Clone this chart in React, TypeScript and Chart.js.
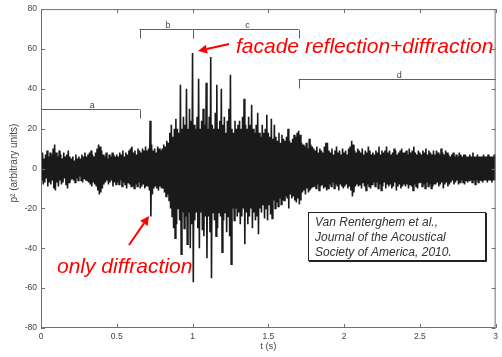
import React, { useEffect, useRef } from 'react';
import { Chart, registerables } from 'chart.js';

Chart.register(...registerables);

// ---- data ----
const sampleStep = 0.01; // seconds between envelope samples
const upperEnvelope = [
  6, 8, 5, 7, 9, 6, 8, 7, 10, 12,
  8, 6, 9, 7, 5, 8, 6, 7, 9, 6,
  5, 6, 4, 7, 5, 6, 5, 7, 6, 8,
  6, 7, 8, 9, 7, 6, 8, 10, 12, 11,
  9, 7, 6, 8, 5, 7, 6, 8, 7, 6,
  7, 6, 8, 7, 9, 6, 8, 7, 9, 10,
  11, 8, 9, 7, 10, 9, 8, 10, 9, 11,
  9, 10, 24, 12, 9, 10, 8, 11, 10, 9,
  10, 12, 11, 14, 13, 18, 22, 16, 20, 25,
  20, 18, 42, 20, 26, 22, 40, 20, 30, 24,
  58, 22, 20, 26, 45, 20, 24, 30, 22, 43,
  20, 26, 56, 22, 20, 28, 42, 20, 24, 40,
  22, 26, 18, 24, 30, 47, 20, 18, 24, 20,
  22, 24, 20, 26, 35, 22, 20, 26, 22, 32,
  20, 18, 22, 28, 18, 16, 22, 18, 20, 27,
  18, 16, 25, 15, 22, 16, 14, 18, 13, 17,
  15, 14, 16, 20, 14, 13, 15, 17, 16, 18,
  19, 17, 13, 12, 11, 13, 10, 15, 12, 11,
  10, 9, 11, 8, 10, 9, 8, 11, 13, 13,
  9, 8, 10, 7, 9, 11, 8, 9, 7, 10,
  8, 9, 7, 10, 11, 14, 12, 9, 8, 10,
  9, 8, 10, 7, 9, 8, 11, 9, 7, 8,
  7, 9, 8, 11, 7, 9, 8, 9, 11, 8,
  9, 7, 8, 10, 9, 7, 8, 9, 10, 8,
  8, 9, 7, 10, 8, 9, 11, 8, 7, 9,
  8, 7, 9, 8, 10, 7, 9, 8, 7, 9,
  7, 9, 8, 7, 10, 8, 7, 9, 8, 7,
  6, 7, 8, 6, 7, 6, 8, 7, 6, 7,
  7, 6, 6, 7, 6, 8, 6, 6, 7, 6,
  6, 6, 7, 6, 6, 7, 6, 6, 6, 7,
];
const lowerEnvelope = [
  -6, -8, -7, -5, -9, -7, -8, -6, -10, -11,
  -7, -9, -6, -8, -7, -5, -8, -10, -7, -6,
  -5, -6, -7, -5, -6, -4, -6, -7, -5, -6,
  -6, -7, -8, -9, -7, -8, -9, -11, -13, -12,
  -10, -8, -7, -6, -8, -7, -6, -9, -7, -8,
  -7, -8, -6, -9, -7, -8, -10, -7, -8, -9,
  -9, -10, -8, -9, -7, -10, -9, -8, -10, -9,
  -9, -11, -24, -13, -10, -9, -10, -11, -9, -10,
  -10, -12, -14, -13, -16, -20, -24, -30, -35, -28,
  -20, -26, -43, -22, -30, -24, -38, -22, -40, -28,
  -57, -26, -22, -30, -40, -22, -31, -34, -24, -45,
  -24, -32, -55, -22, -26, -34, -30, -22, -24, -42,
  -26, -22, -32, -24, -34, -48, -20, -26, -20, -24,
  -22, -28, -24, -20, -38, -22, -28, -24, -20, -30,
  -22, -26, -24, -33, -20, -22, -18, -25, -20, -26,
  -18, -23, -25, -16, -20, -17, -19, -15, -18, -16,
  -16, -14, -15, -20, -13, -15, -14, -16, -17, -15,
  -18, -16, -12, -11, -13, -10, -12, -11, -10, -9,
  -9, -10, -8, -11, -9, -8, -10, -9, -11, -10,
  -8, -9, -7, -10, -8, -9, -11, -8, -9, -10,
  -9, -8, -10, -9, -11, -14, -12, -9, -8, -9,
  -8, -10, -7, -9, -11, -8, -9, -10, -8, -7,
  -9, -7, -10, -8, -11, -9, -7, -10, -8, -9,
  -8, -10, -9, -7, -11, -9, -8, -10, -9, -8,
  -9, -8, -10, -8, -9, -11, -8, -9, -10, -7,
  -7, -9, -8, -10, -7, -9, -8, -10, -9, -8,
  -8, -7, -9, -8, -7, -10, -8, -7, -9, -8,
  -7, -6, -8, -7, -6, -8, -7, -6, -7, -8,
  -6, -7, -6, -6, -7, -6, -8, -6, -7, -6,
  -6, -7, -6, -6, -7, -6, -6, -7, -6, -6,
];
const xTicks = [0, 0.5, 1, 1.5, 2, 2.5, 3];
const yTicks = [-80, -60, -40, -20, 0, 20, 40, 60, 80];
const segmentLabels = ['a', 'b', 'c', 'd'];
const segmentStart = [0, 0.65, 1.0, 1.7];
const segmentEnd = [0.65, 1.0, 1.7, 3.0];
const segmentLevel = [30, 70, 70, 45];
const citationLines = [
  'Van Renterghem et al.,',
  'Journal of the Acoustical',
  'Society of America, 2010.',
];

const SANS = '"Liberation Sans", Arial, Helvetica, sans-serif';

function buildWave() {
  const pts: { x: number; y: number }[] = [];
  for (let i = 0; i < upperEnvelope.length; i++) {
    const t = i * sampleStep;
    pts.push({ x: t, y: upperEnvelope[i] });
    pts.push({ x: t + sampleStep / 2, y: lowerEnvelope[i] });
  }
  return pts;
}

function arrow(ctx: CanvasRenderingContext2D, x0: number, y0: number, x1: number, y1: number) {
  const ang = Math.atan2(y1 - y0, x1 - x0);
  const head = 9;
  const hw = 4.5;
  const bx = x1 - head * Math.cos(ang);
  const by = y1 - head * Math.sin(ang);
  ctx.beginPath();
  ctx.moveTo(x0, y0);
  ctx.lineTo(bx, by);
  ctx.stroke();
  ctx.beginPath();
  ctx.moveTo(x1, y1);
  ctx.lineTo(bx + hw * Math.sin(ang), by - hw * Math.cos(ang));
  ctx.lineTo(bx - hw * Math.sin(ang), by + hw * Math.cos(ang));
  ctx.closePath();
  ctx.fill();
}

const overlayPlugin = {
  id: 'overlay',
  afterDraw(chart: any) {
    const { ctx, chartArea: a } = chart;
    const xs = chart.scales.x;
    const ys = chart.scales.y;
    ctx.save();

    // axes box
    ctx.strokeStyle = '#707070';
    ctx.lineWidth = 1;
    ctx.strokeRect(a.left + 0.5, a.top + 0.5, a.right - a.left - 1, a.bottom - a.top - 1);

    // inward ticks on all four sides
    const tl = 4;
    ctx.beginPath();
    xTicks.forEach((v) => {
      const px = Math.round(xs.getPixelForValue(v)) + 0.5;
      ctx.moveTo(px, a.bottom);
      ctx.lineTo(px, a.bottom - tl);
      ctx.moveTo(px, a.top);
      ctx.lineTo(px, a.top + tl);
    });
    yTicks.forEach((v) => {
      const py = Math.round(ys.getPixelForValue(v)) + 0.5;
      ctx.moveTo(a.left, py);
      ctx.lineTo(a.left + tl, py);
      ctx.moveTo(a.right, py);
      ctx.lineTo(a.right - tl, py);
    });
    ctx.stroke();

    // segment brackets a, b, c, d
    ctx.strokeStyle = '#606060';
    ctx.fillStyle = '#444';
    ctx.font = `9px ${SANS}`;
    ctx.textAlign = 'center';
    ctx.textBaseline = 'alphabetic';
    const drop = 9;
    segmentLabels.forEach((lab, i) => {
      const x0 = xs.getPixelForValue(segmentStart[i]);
      const x1 = xs.getPixelForValue(segmentEnd[i]);
      const py = Math.round(ys.getPixelForValue(segmentLevel[i])) + 0.5;
      ctx.beginPath();
      ctx.moveTo(x0, py);
      ctx.lineTo(x1, py);
      if (segmentStart[i] > xs.min) {
        const px = Math.round(x0) + 0.5;
        ctx.moveTo(px, py);
        ctx.lineTo(px, py + drop);
      }
      if (segmentEnd[i] < xs.max) {
        const px = Math.round(x1) + 0.5;
        ctx.moveTo(px, py);
        ctx.lineTo(px, py + drop);
      }
      ctx.stroke();
      ctx.fillText(lab, (x0 + x1) / 2 + 2, py - 2);
    });

    // axis titles
    ctx.fillStyle = '#444';
    ctx.font = `9.5px ${SANS}`;
    ctx.textAlign = 'center';
    ctx.textBaseline = 'middle';
    ctx.fillText('t (s)', (a.left + a.right) / 2, 346);
    ctx.save();
    ctx.translate(14, 163);
    ctx.rotate(-Math.PI / 2);
    ctx.font = `10px ${SANS}`;
    ctx.fillText('p\u00B2 (arbitrary units)', 0, 0);
    ctx.restore();

    // red annotations
    ctx.fillStyle = '#ff0000';
    ctx.strokeStyle = '#ff0000';
    ctx.lineWidth = 2;
    ctx.font = `italic 21px ${SANS}`;
    ctx.textAlign = 'left';
    ctx.textBaseline = 'alphabetic';
    ctx.fillText('facade reflection+diffraction', 236, 53);
    ctx.fillText('only diffraction', 57, 273);
    arrow(ctx, 229, 44, 198, 51);
    arrow(ctx, 129, 245, 149, 216);

    // citation box
    ctx.lineWidth = 1;
    ctx.fillStyle = '#ffffff';
    ctx.fillRect(308, 212, 178, 49);
    ctx.strokeStyle = '#222';
    ctx.strokeRect(308.5, 212.5, 177, 48);
    ctx.beginPath();
    ctx.moveTo(486.5, 213);
    ctx.lineTo(486.5, 261.5);
    ctx.lineTo(309, 261.5);
    ctx.stroke();
    ctx.fillStyle = '#333';
    ctx.font = `italic 12px ${SANS}`;
    citationLines.forEach((ln, i) => {
      ctx.fillText(ln, 315, 226 + i * 15);
    });

    ctx.restore();
  },
};

export default function App() {
  const ref = useRef<HTMLCanvasElement | null>(null);
  useEffect(() => {
    document.body.style.margin = '0';
    const canvas = ref.current;
    if (!canvas) return;
    const chart = new Chart(canvas, {
      type: 'line',
      data: {
        datasets: [
          {
            data: buildWave(),
            borderColor: '#1a1a1a',
            borderWidth: 1.6,
            borderJoinStyle: 'miter',
            pointRadius: 0,
            tension: 0,
            fill: false,
          },
        ],
      },
      options: {
        animation: false,
        responsive: false,
        devicePixelRatio: 1,
        layout: { padding: { top: 7, right: 3, left: 0, bottom: 0 } },
        plugins: { legend: { display: false }, tooltip: { enabled: false } },
        scales: {
          x: {
            type: 'linear',
            min: 0,
            max: 3,
            afterBuildTicks: (s: any) => {
              s.ticks = xTicks.map((v) => ({ value: v }));
            },
            afterFit: (s: any) => {
              s.height = 29;
            },
            grid: { display: false, drawTicks: false },
            border: { display: false },
            ticks: {
              padding: 4,
              maxRotation: 0,
              autoSkip: false,
              color: '#444',
              font: { family: SANS, size: 8.5 },
              callback: (v: any) => String(v),
            },
          },
          y: {
            type: 'linear',
            min: -80,
            max: 80,
            afterBuildTicks: (s: any) => {
              s.ticks = yTicks.map((v) => ({ value: v }));
            },
            afterFit: (s: any) => {
              s.width = 41;
            },
            grid: { display: false, drawTicks: false },
            border: { display: false },
            ticks: {
              padding: 4,
              autoSkip: false,
              color: '#444',
              font: { family: SANS, size: 8.5 },
              callback: (v: any) => String(v),
            },
          },
        },
      },
      plugins: [overlayPlugin],
    });
    return () => chart.destroy();
  }, []);
  return (
    <div style={{ width: 502, height: 357, background: '#fff' }}>
      <canvas ref={ref} width={502} height={357} style={{ display: 'block' }} />
    </div>
  );
}
